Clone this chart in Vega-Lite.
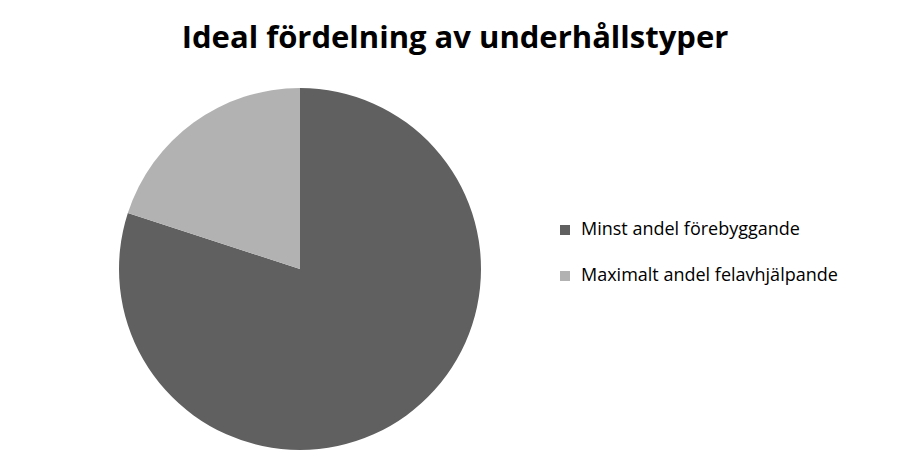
{
  "$schema": "https://vega.github.io/schema/vega-lite/v6.json",
  "autosize": {"type": "none"},
  "padding": {"left": 119, "top": 88, "right": 429, "bottom": 24},
  "width": 362,
  "height": 362,
  "background": "white",
  "title": {
    "text": "Ideal fördelning av underhållstyper",
    "font": "Open Sans",
    "fontSize": 31,
    "fontWeight": "bold",
    "color": "black",
    "anchor": "middle",
    "dx": 155,
    "offset": 33
  },
  "data": {
    "values": [
      {"typ": "Minst andel förebyggande", "andel": 80},
      {"typ": "Maximalt andel felavhjälpande", "andel": 20}
    ]
  },
  "mark": {"type": "arc", "stroke": null},
  "encoding": {
    "theta": {"field": "andel", "type": "quantitative", "stack": true},
    "order": {"field": "andel", "sort": "descending"},
    "color": {
      "field": "typ",
      "type": "nominal",
      "sort": ["Minst andel förebyggande", "Maximalt andel felavhjälpande"],
      "scale": {"range": ["#606060", "#b2b2b2"]},
      "legend": {
        "title": null,
        "orient": "none",
        "legendX": 437,
        "legendY": 133,
        "symbolType": "square",
        "symbolSize": 100,
        "symbolStrokeWidth": 0,
        "labelFont": "Open Sans",
        "labelFontSize": 18,
        "labelColor": "black",
        "labelOffset": 7,
        "labelLimit": 0,
        "rowPadding": 28
      }
    }
  },
  "config": {"view": {"stroke": null}}
}
